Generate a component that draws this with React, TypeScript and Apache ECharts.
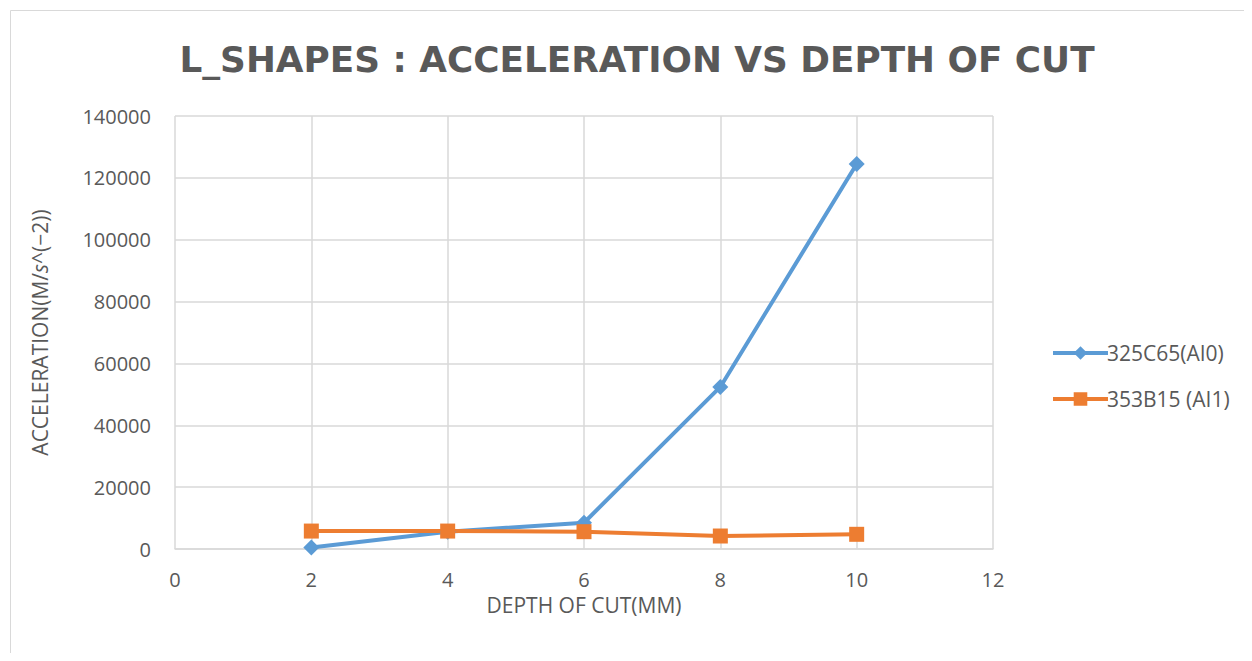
import React, { useEffect, useRef } from "react";
import * as echarts from "echarts";

const depths = [2, 4, 6, 8, 10];
const sensor325 = [500, 5600, 8500, 52400, 124500];
const sensor353 = [5800, 5800, 5600, 4200, 4750];
const seriesNames = ["325C65(AI0)", "353B15 (AI1)"];

const FONT = "'Open Sans', 'Noto Sans', sans-serif";
const TEXT = "#595959";
const GRID = "#d9d9d9";

export default function App() {
  const ref = useRef<HTMLDivElement>(null);

  useEffect(() => {
    const chart = echarts.init(ref.current!, null, { renderer: "svg" });
    chart.setOption({
      animation: false,
      backgroundColor: "#ffffff",
      title: {
        text: "L_SHAPES : ACCELERATION VS DEPTH OF CUT",
        left: 632,
        top: 36,
        textAlign: "center",
        textStyle: {
          fontFamily: "'DejaVu Sans', sans-serif",
          fontWeight: "bold",
          fontSize: 35.8,
          color: TEXT,
        },
      },
      graphic: [
        {
          type: "rect",
          shape: { x: 10.5, y: 10.5, width: 1260, height: 700 },
          style: { fill: "none", stroke: GRID, lineWidth: 1 },
          silent: true,
        },
      ],
      legend: {
        orient: "vertical",
        left: 1046,
        top: 336,
        itemWidth: 55,
        itemHeight: 17,
        itemGap: 22,
        lineStyle: { width: 4 },
        textStyle: { fontFamily: FONT, fontSize: 21, lineHeight: 24, color: TEXT, padding: [0, 0, 0, -6] },
        data: seriesNames,
      },
      grid: { left: 175, right: 259, top: 116, bottom: 112 },
      xAxis: {
        type: "value",
        min: 0,
        max: 12,
        interval: 2,
        name: "DEPTH OF CUT(MM)",
        nameLocation: "middle",
        nameGap: 45,
        nameTextStyle: { fontFamily: FONT, fontSize: 21, color: TEXT },
        axisLine: { show: true, lineStyle: { color: GRID, width: 1.5 } },
        axisTick: { show: false },
        axisLabel: { fontFamily: FONT, fontSize: 20, color: TEXT, margin: 20 },
        splitLine: { show: true, lineStyle: { color: GRID, width: 1.5 } },
      },
      yAxis: {
        type: "value",
        min: 0,
        max: 140000,
        interval: 20000,
        name: "ACCELERATION(M/{i|s}^(−2))",
        nameLocation: "middle",
        nameGap: 125,
        nameRotate: 90,
        nameTextStyle: {
          fontFamily: FONT,
          fontSize: 21,
          color: TEXT,
          rich: {
            i: { fontFamily: FONT, fontSize: 21, color: TEXT, fontStyle: "italic" },
          },
        },
        axisLine: { show: false },
        axisTick: { show: false },
        axisLabel: {
          fontFamily: FONT,
          fontSize: 20,
          color: TEXT,
          margin: 24,
          formatter: (v: number) => String(v),
        },
        splitLine: { show: true, lineStyle: { color: GRID, width: 1.5 } },
      },
      series: [
        {
          name: seriesNames[0],
          type: "line",
          data: depths.map((d, i) => [d, sensor325[i]]),
          symbol: "diamond",
          symbolSize: 16,
          itemStyle: { color: "#5b9bd5" },
          lineStyle: { color: "#5b9bd5", width: 4 },
        },
        {
          name: seriesNames[1],
          type: "line",
          data: depths.map((d, i) => [d, sensor353[i]]),
          symbol: "rect",
          symbolSize: 15,
          itemStyle: { color: "#ed7d31" },
          lineStyle: { color: "#ed7d31", width: 4 },
        },
      ],
    });
    return () => chart.dispose();
  }, []);

  return <div ref={ref} style={{ width: 1252, height: 661, margin: -8 }} />;
}
